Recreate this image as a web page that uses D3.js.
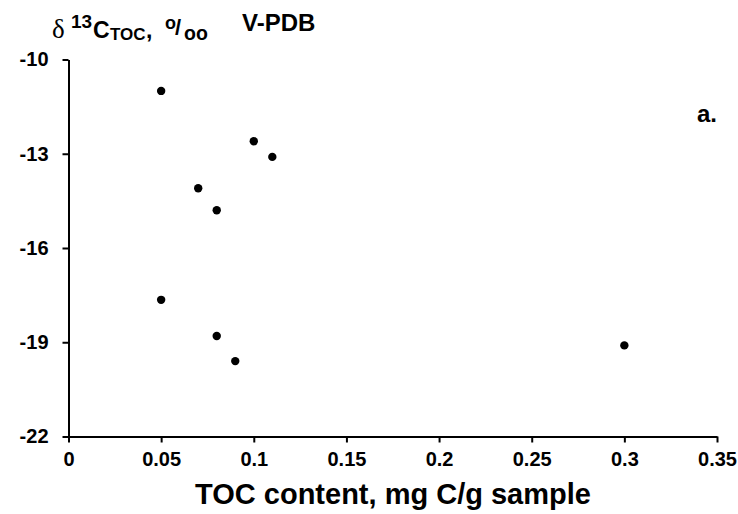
<!DOCTYPE html>
<html>
<head>
<meta charset="utf-8">
<script src="https://cdn.jsdelivr.net/npm/d3@7"></script>
<style>
  body { margin: 0; background: #fff; }
  svg text { font-family: "Liberation Sans", Arial, sans-serif; font-weight: bold; fill: #000; }
  .axis path, .axis line { stroke: #000; stroke-width: 2; }
  .axis text { font-size: 20px; font-family: "Liberation Sans", Arial, sans-serif; font-weight: bold; }
</style>
</head>
<body>
<svg></svg>
<script>
// TOC content (mg C/g sample) and d13C TOC (per mil V-PDB)
var toc   = [0.05, 0.10, 0.11, 0.07, 0.08, 0.05, 0.08, 0.09, 0.30];
var d13c  = [-11.0, -12.6, -13.1, -14.1, -14.8, -17.65, -18.8, -19.6, -19.1];
var xTicks = [0, 0.05, 0.1, 0.15, 0.2, 0.25, 0.3, 0.35];
var yTicks = [-10, -13, -16, -19, -22];

var width = 738, height = 514;

var svg = d3.select("svg")
  .attr("width", width)
  .attr("height", height);

var padding = { left: 68.5, right: 21, top: 59.5, bottom: 77.5 };

var xScale = d3.scaleLinear()
  .domain([0, 0.35])
  .range([padding.left, width - padding.right]);

var yScale = d3.scaleLinear()
  .domain([-22, -10])
  .range([height - padding.bottom, padding.top]);

var xAxis = d3.axisBottom(xScale)
  .tickValues(xTicks)
  .tickFormat(function(d){ return String(+d.toFixed(2)); })
  .tickSizeInner(6).tickSizeOuter(0).tickPadding(9);

var yAxis = d3.axisLeft(yScale)
  .tickValues(yTicks)
  .tickFormat(function(d){ return String(d); })
  .tickSizeInner(6).tickSizeOuter(0).tickPadding(14);

svg.append("g")
  .attr("class", "axis")
  .attr("transform", "translate(0," + yScale(-22) + ")")
  .call(xAxis);

svg.append("g")
  .attr("class", "axis")
  .attr("transform", "translate(" + padding.left + ",0)")
  .call(yAxis);

svg.selectAll(".axis .domain").attr("stroke-width", 2);

svg.selectAll("circle.pt")
  .data(toc)
  .enter()
  .append("circle")
  .attr("class", "pt")
  .attr("cx", function(d){ return xScale(d); })
  .attr("cy", function(d, i){ return yScale(d13c[i]); })
  .attr("r", 4.2)
  .attr("fill", "#000");

// y title, pieces placed one by one
var title = svg.append("text");
var parts = [
  { t: "δ",     x: 52,  y: 38,   s: 27, serif: true },
  { t: "13",    x: 71,  y: 27.5, s: 19 },
  { t: "C",     x: 93,  y: 38,   s: 23 },
  { t: "TOC",   x: 110, y: 40,   s: 17 },
  { t: ",",     x: 146, y: 38,   s: 23 },
  { t: "o",     x: 165, y: 28.5, s: 18 },
  { t: "/",     x: 175, y: 34.5, s: 22 },
  { t: "oo",    x: 184, y: 40,   s: 19.5 },
  { t: "V-PDB", x: 242, y: 31,   s: 24 }
];
parts.forEach(function(p){
  var sp = title.append("tspan")
    .attr("x", p.x)
    .attr("y", p.y)
    .style("font-size", p.s + "px")
    .text(p.t);
  if (p.serif) sp.style("font-family", "'Liberation Serif', 'Times New Roman', serif").style("font-weight", "normal");
});

// x title
svg.append("text")
  .attr("x", 393)
  .attr("y", 504)
  .attr("text-anchor", "middle")
  .style("font-size", "29px")
  .text("TOC content, mg C/g sample");

svg.append("text")
  .attr("x", 697)
  .attr("y", 122)
  .style("font-size", "24px")
  .text("a.");
</script>
</body>
</html>
